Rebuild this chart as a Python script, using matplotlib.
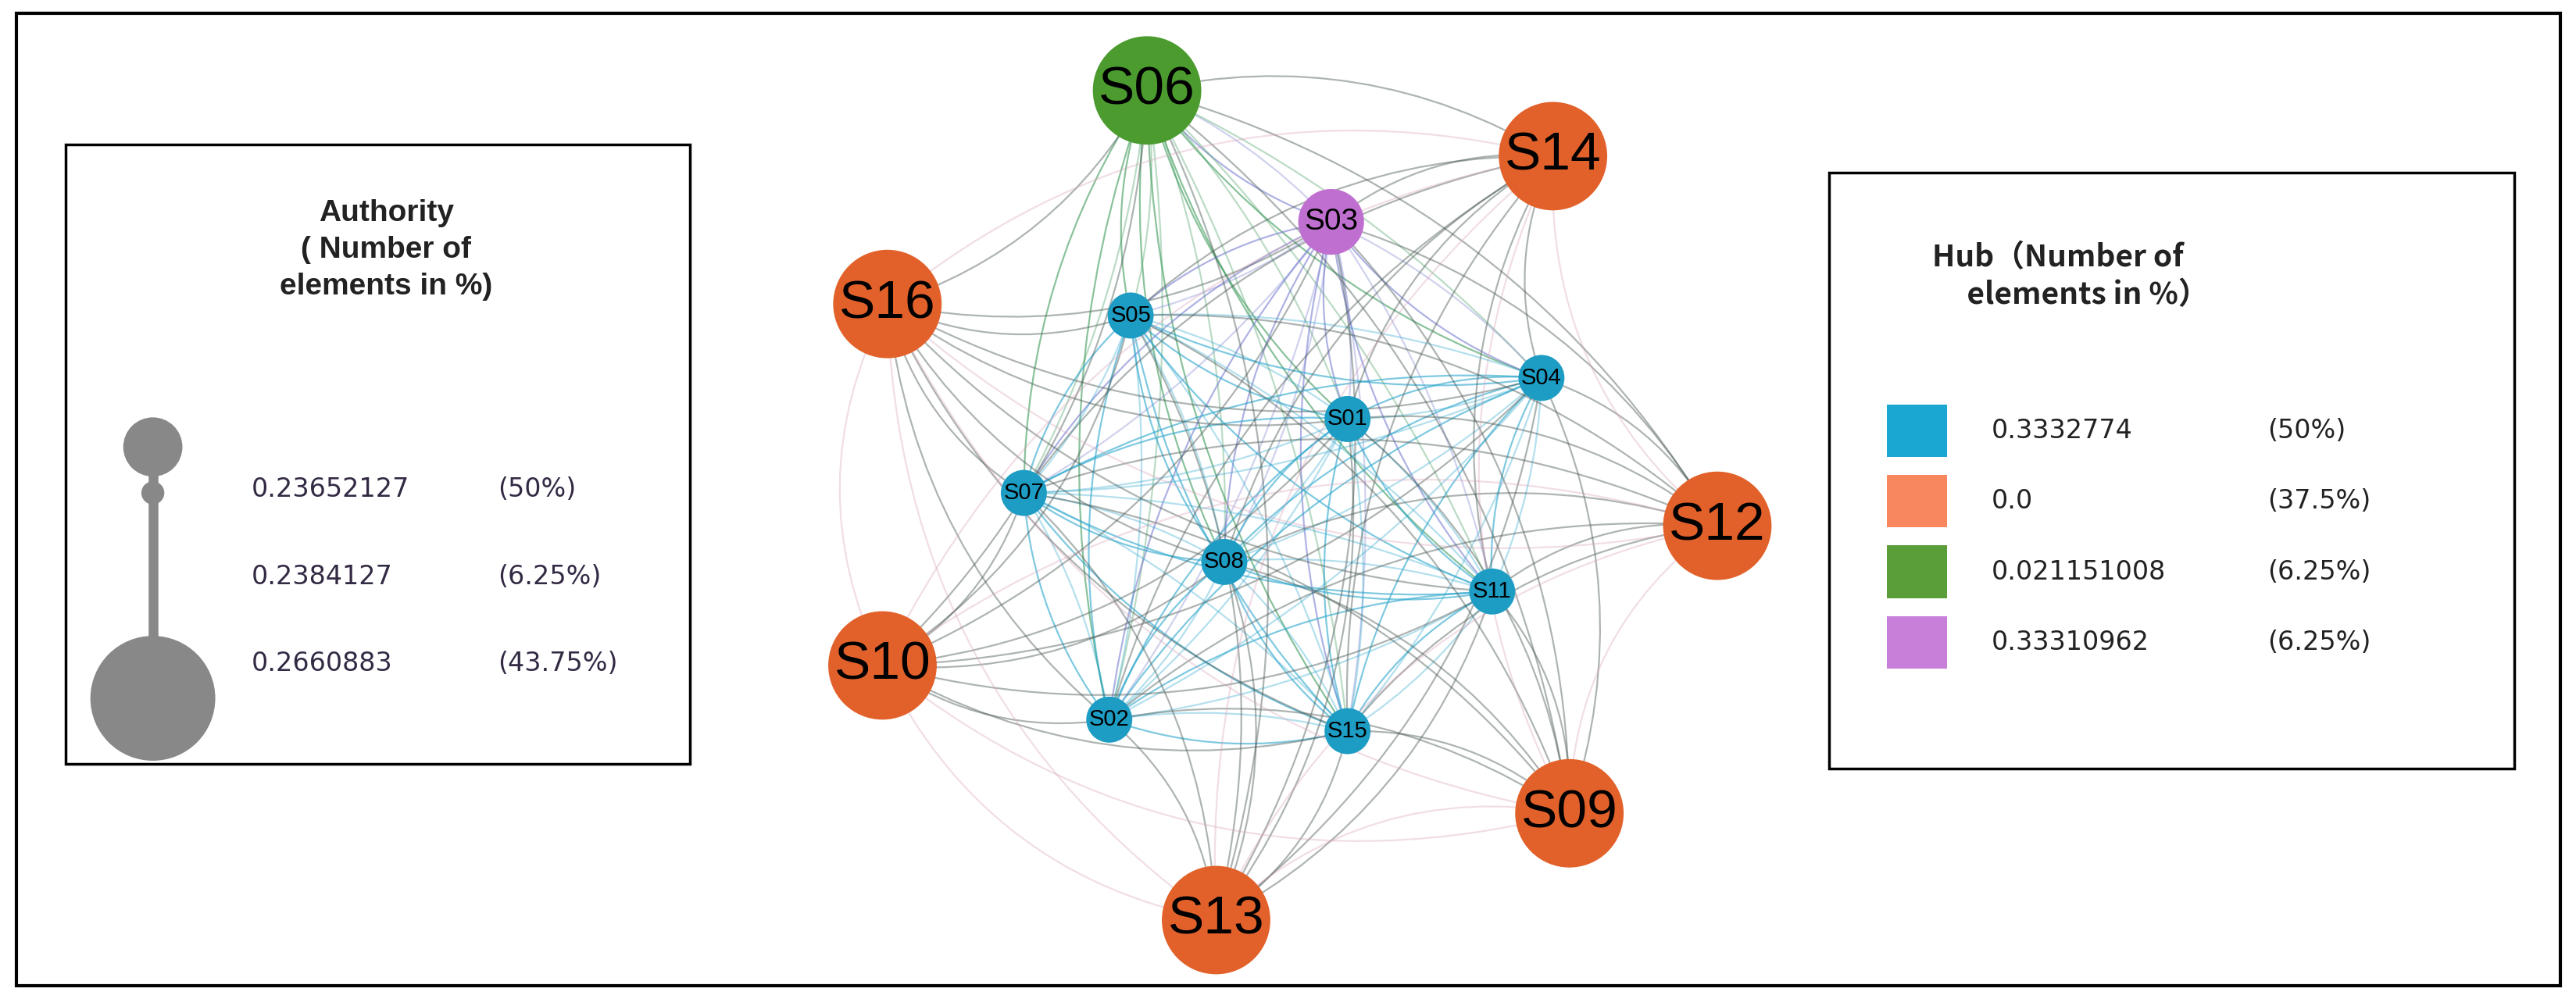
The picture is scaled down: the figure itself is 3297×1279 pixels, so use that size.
import matplotlib
matplotlib.use("Agg")
import matplotlib.pyplot as plt
from matplotlib.patches import Circle, Rectangle, FancyArrowPatch

nodes = ["S06","S14","S03","S16","S05","S04","S01","S12","S07","S08","S11","S10","S02","S15","S09","S13"]
groups = ["green","orange","purple","orange","blue","blue","blue","orange","blue","blue","blue","orange","blue","blue","orange","orange"]
pos_x = [698,945,810,540,688,938,820,1045,623,745,908,537,675,820,955,740]
pos_y = [55,95,135,185,192,230,255,320,300,342,360,405,438,445,495,560]

auth_vals = ["0.23652127","0.2384127","0.2660883"]
auth_pct = ["(50%)","(6.25%)","(43.75%)"]
hub_vals = ["0.3332774","0.0","0.021151008","0.33310962"]
hub_pct = ["(50%)","(37.5%)","(6.25%)","(6.25%)"]
hub_cols = ["#1aa7d1","#f8875f","#5a9e3a","#c77fd9"]

fill = {"blue":"#1d9cc4","orange":"#e2612a","green":"#4b9b2f","purple":"#bf6fd0"}
rad = {"blue":14,"orange":33,"green":33,"purple":20}
fs = {"blue":21,"orange":50,"green":50,"purple":28}

plt.rcParams['font.family'] = ['Liberation Sans','DejaVu Sans']
fig = plt.figure(figsize=(32.98,12.79), dpi=100)
ax = fig.add_axes([0,0,1,1])
ax.set_xlim(0,1568); ax.set_ylim(608,0); ax.set_aspect("equal"); ax.axis("off")
ax.add_patch(Rectangle((10,8),1548,592,fill=False,lw=3,ec="black"))

inner = [i for i,g in enumerate(groups) if g!="orange"]
outer = [i for i,g in enumerate(groups) if g=="orange"]
def edge(i,j,c,a,r):
    p = FancyArrowPatch((pos_x[i],pos_y[i]),(pos_x[j],pos_y[j]),connectionstyle=f"arc3,rad={r}",
                        arrowstyle="-",color=c,alpha=a,lw=1.6,zorder=1)
    ax.add_patch(p)
for a_ in range(len(inner)):
    for b_ in range(a_+1,len(inner)):
        i,j = inner[a_],inner[b_]
        c = "#2aa6cc"
        if groups[i]=="green" or groups[j]=="green": c="#3c9a5a"
        if groups[i]=="purple" or groups[j]=="purple": c="#7a80d0"
        edge(i,j,c,0.6,0.15); edge(j,i,c,0.35,0.1)
for i in outer:
    for j in inner:
        edge(i,j,"#4a5a55",0.45,0.2)
for a_ in range(len(outer)):
    for b_ in range(a_+1,len(outer)):
        edge(outer[a_],outer[b_],"#d7a0b8",0.35,0.25)

for n,g,x,y in zip(nodes,groups,pos_x,pos_y):
    ax.add_patch(Circle((x,y),rad[g],fc=fill[g],ec="none",zorder=3))
    ax.text(x,y,n,fontsize=fs[g],ha="center",va="center",zorder=4,color="black")

# Authority legend
ax.add_patch(Rectangle((40,88),380,377,fill=False,lw=2.5,ec="black",zorder=5))
ax.text(235,152,"Authority\n( Number of\nelements in %\u0029",fontsize=28,ha="center",va="center",
        fontweight="bold",color="#222",linespacing=1.4)
ax.plot([93,93],[272,420],color="#888",lw=9,solid_capstyle="butt",zorder=5)
ax.add_patch(Circle((93,272),18,fc="#888",ec="none",zorder=6))
ax.add_patch(Circle((93,300),7,fc="#888",ec="none",zorder=6))
ax.add_patch(Circle((93,425),38,fc="#888",ec="none",zorder=6))
for k,(v,p) in enumerate(zip(auth_vals,auth_pct)):
    y = 298 + k*53
    ax.text(153,y,v,fontsize=24,va="center",color="#332a44",family="DejaVu Sans")
    ax.text(303,y,p,fontsize=24,va="center",color="#332a44",family="DejaVu Sans")

# Hub legend
ax.add_patch(Rectangle((1113,105),417,363,fill=False,lw=2.5,ec="black",zorder=5))
ax.text(1176,168,"Hub\uff08Number of\n     elements in %\uff09",fontsize=28,ha="left",va="center",
        fontweight="bold",color="#222",linespacing=1.3,family=["Noto Sans CJK SC","DejaVu Sans"])
for k,(v,p,c) in enumerate(zip(hub_vals,hub_pct,hub_cols)):
    y = 262 + k*43
    ax.add_patch(Rectangle((1148,y-16),37,32,fc=c,ec="none"))
    ax.text(1212,y,v,fontsize=24,va="center",color="#222",family="DejaVu Sans")
    ax.text(1380,y,p,fontsize=24,va="center",color="#222",family="DejaVu Sans")

fig.savefig("out.png",dpi=100)
